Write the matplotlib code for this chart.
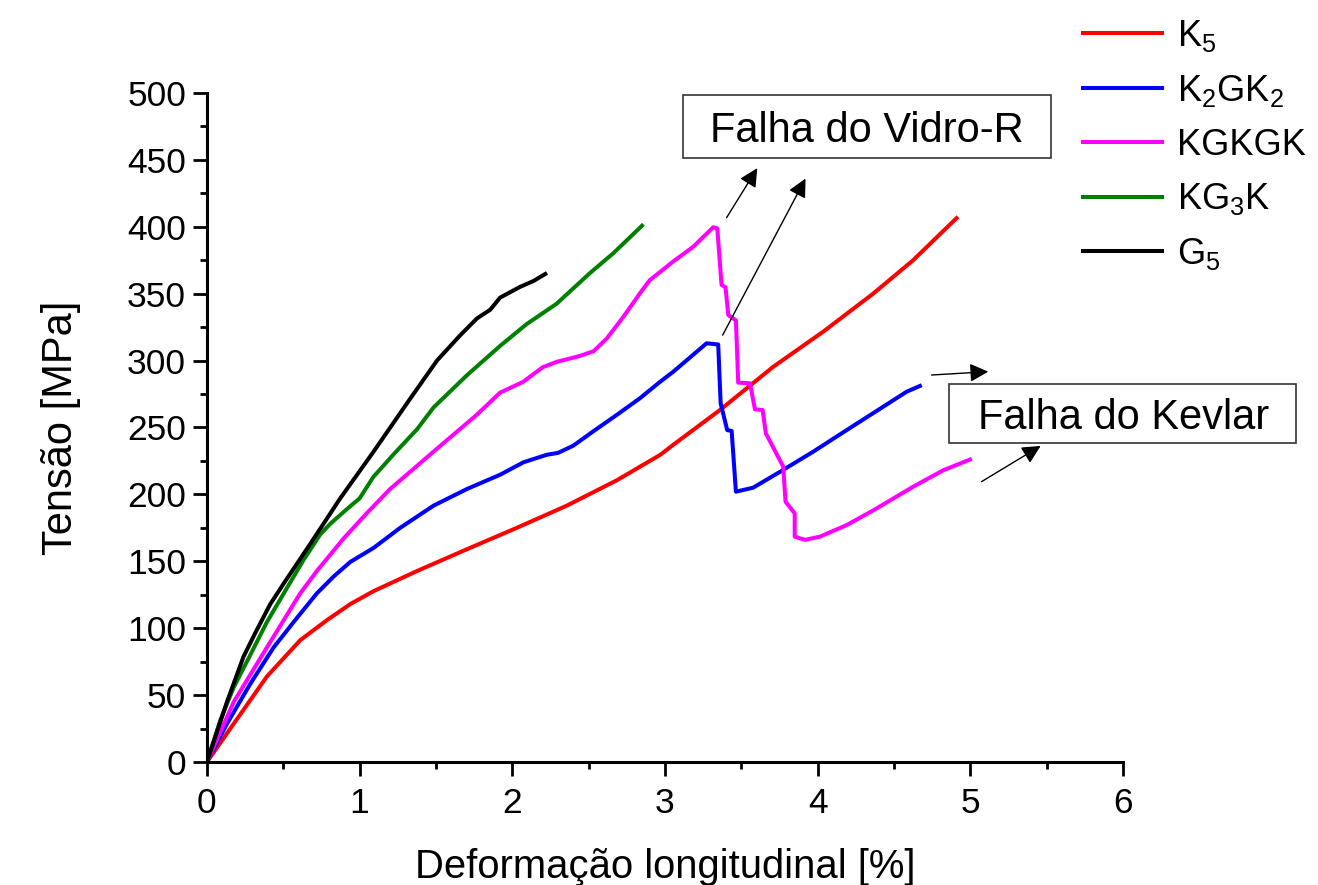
import numpy as np
import matplotlib
matplotlib.use("Agg")
from matplotlib import pyplot as plt
from matplotlib.patches import Rectangle

plt.rcParams['font.family'] = ['Liberation Sans', 'DejaVu Sans']
plt.rcParams['mathtext.fontset'] = 'custom'
plt.rcParams['mathtext.rm'] = 'Liberation Sans'

# Curves: strain [%] vs stress [MPa]
k5_x = [0, 0.175, 0.393, 0.611, 0.786, 0.939, 1.092, 1.376, 1.703, 2.03, 2.358,
        2.686, 2.97, 3.054, 3.36, 3.71, 4.037, 4.364, 4.626, 4.91]
k5_y = [0, 28.5, 63.9, 91, 106, 118, 127.7, 142.7, 159, 175, 191.6,
        210.6, 229.6, 237, 263, 295.4, 321.6, 350, 375, 406.4]

k2gk2_x = [0, 0.131, 0.284, 0.437, 0.568, 0.72, 0.83, 0.939, 1.092, 1.266, 1.485,
           1.703, 1.921, 2.074, 2.227, 2.30, 2.40, 2.533, 2.686, 2.836, 2.967,
           3.054, 3.273, 3.349, 3.365, 3.408, 3.437, 3.465, 3.578, 3.753, 3.97,
           4.19, 4.43, 4.583, 4.67]
k2gk2_y = [0, 28.5, 58.4, 85.6, 104.6, 126, 138.6, 149.5, 160, 175, 191.6,
           204, 214.7, 224, 229.6, 231, 236.4, 247.3, 259.5, 271.8, 284,
           291.6, 312.9, 312, 268, 248, 247.4, 202, 205, 216.8, 231.8,
           248, 265.5, 276.7, 281]

kgkgk_x = [0, 0.175, 0.393, 0.611, 0.72, 0.895, 1.048, 1.2, 1.485, 1.768, 1.92,
           2.07, 2.2, 2.29, 2.445, 2.533, 2.62, 2.73, 2.838, 2.90, 3.054, 3.185,
           3.284, 3.316, 3.343, 3.356, 3.371, 3.397, 3.415, 3.465, 3.48, 3.557,
           3.59, 3.64, 3.661, 3.775, 3.79, 3.85, 3.85, 3.917, 4.015, 4.19, 4.364,
           4.626, 4.823, 4.998]
kgkgk_y = [0, 44.8, 85.6, 126, 142.7, 167, 186, 204, 232, 259.5, 276,
           284, 295, 299, 303.5, 307, 316.6, 333, 350.5, 360, 374, 385,
           396, 399.6, 398.8, 379, 356.5, 354.7, 334, 330, 283.5, 283,
           263.5, 263, 245.6, 220.7, 194.5, 185.8, 168.4, 166, 168.4, 177, 188,
           205.7, 218, 226]

kg3k_x = [0, 0.087, 0.175, 0.284, 0.393, 0.524, 0.633, 0.742, 0.808, 0.917, 1.0,
          1.09, 1.22, 1.376, 1.485, 1.703, 1.921, 2.096, 2.29, 2.51, 2.664, 2.85]
kg3k_y = [0, 31, 55.7, 80, 104.6, 130, 151, 170, 178, 189, 197,
          213, 229.6, 248.6, 265, 289, 311, 327.4, 342.4, 365.5, 380.4, 400.8]

g5_x = [0, 0.131, 0.24, 0.317, 0.415, 0.524, 0.677, 0.873, 1.092, 1.31, 1.507,
        1.66, 1.769, 1.856, 1.92, 2.05, 2.14, 2.216]
g5_y = [0, 44.8, 78.8, 96.5, 118, 137, 163, 197, 232, 268, 300,
        319, 331.5, 338, 347, 355, 359.5, 364.7]

labels = [r'K$_\mathregular{5}$', r'K$_\mathregular{2}$GK$_\mathregular{2}$', 'KGKGK',
          r'KG$_\mathregular{3}$K', r'G$_\mathregular{5}$']
colors = ['#ff0000', '#0000ff', '#ff00ff', '#008000', '#000000']

fig = plt.figure(figsize=(13.18, 8.85), dpi=100)
ax = fig.add_axes([0.157, 0.139, 0.695, 0.756])

series = [(k5_x, k5_y), (k2gk2_x, k2gk2_y), (kgkgk_x, kgkgk_y),
          (kg3k_x, kg3k_y), (g5_x, g5_y)]
for (xs, ys), lab, c in zip(series, labels, colors):
    ax.plot(xs, ys, color=c, lw=2.9, label=lab, solid_joinstyle='round')

ax.set_xlim(0, 6)
ax.set_ylim(0, 500)
ax.set_xticks(np.arange(0, 7, 1))
ax.set_xticks(np.arange(0.5, 6, 1), minor=True)
ax.set_yticks(np.arange(0, 501, 50))
ax.set_yticks(np.arange(25, 500, 50), minor=True)
for s in ['top', 'right']:
    ax.spines[s].set_visible(False)
for s in ['left', 'bottom']:
    ax.spines[s].set_linewidth(2.2)
ax.tick_params(which='major', direction='out', length=10, width=2, labelsize=25.5)
ax.tick_params(which='minor', direction='out', length=5, width=2)
ax.tick_params(axis='x', pad=8)
ax.tick_params(axis='y', pad=5)
ax.set_xlabel('Deformação longitudinal [%]', fontsize=28.8, labelpad=20)
ax.set_ylabel('Tensão [MPa]', fontsize=30, labelpad=33)

# annotation arrows
arrows = [((3.404, 406.8), (3.605, 443.8)),
          ((3.378, 319.0), (3.921, 436.0)),
          ((4.747, 289.2), (5.118, 291.7)),
          ((5.074, 209.5), (5.461, 236.2))]
for tail, head in arrows:
    ax.annotate('', xy=head, xytext=tail, annotation_clip=False,
                arrowprops=dict(arrowstyle='-|>', color='k', lw=1.0,
                                mutation_scale=28, shrinkA=0, shrinkB=0))

ax.add_patch(Rectangle((3.12, 451.6), 2.408, 46.9, fc='white', ec='#333333',
                       lw=1.2, clip_on=False, zorder=4))
ax.text(4.326, 463.6, 'Falha do Vidro-R', fontsize=30, ha='center', va='baseline', zorder=5)
ax.add_patch(Rectangle((4.862, 238.2), 2.271, 44.3, fc='white', ec='#333333',
                       lw=1.2, clip_on=False, zorder=4))
ax.text(6.005, 248.7, 'Falha do Kevlar', fontsize=30, ha='center', va='baseline',
        zorder=5, clip_on=False)

fig.legend(loc='upper left', bbox_to_anchor=(0.8105, 0.996), frameon=False,
           fontsize=26, handlelength=2.2, handletextpad=0.4, labelspacing=0.52,
           borderaxespad=0)

fig.savefig('out.png', dpi=100)
